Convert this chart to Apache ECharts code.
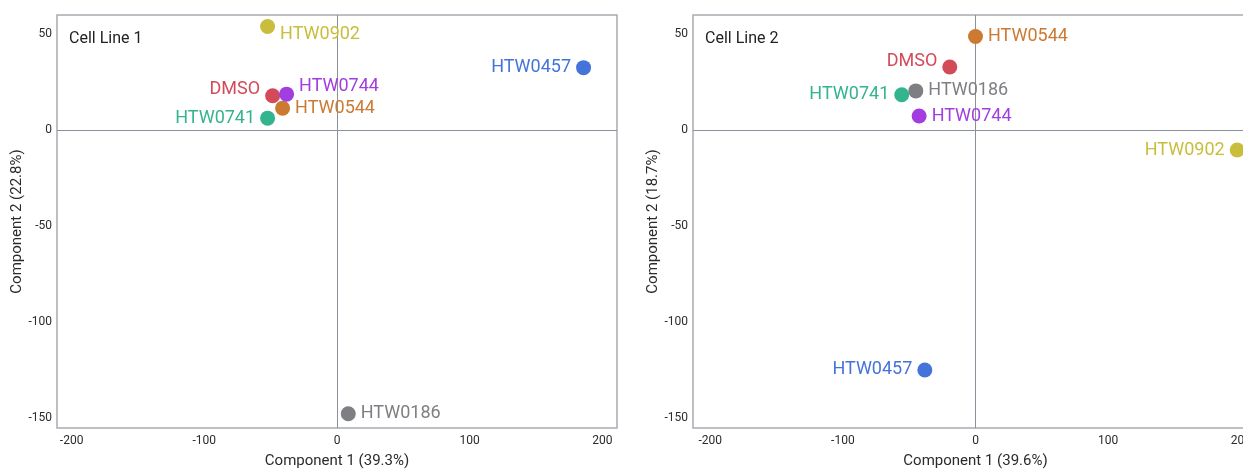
<!DOCTYPE html>
<html>
<head>
<meta charset="utf-8">
<title>PCA of treatments by cell line</title>
<script src="https://cdn.jsdelivr.net/npm/echarts@6/dist/echarts.min.js"></script>
<style>
  html, body { margin: 0; padding: 0; background: #ffffff; overflow: hidden; }
  /* the second panel runs past the right edge of the frame and is cut off */
  #frame { width: 1243px; height: 474px; overflow: hidden; position: relative; }
  #chart { width: 1270px; height: 474px; position: absolute; left: 0; top: 0; }
</style>
</head>
<body>
<div id="frame"><div id="chart"></div></div>
<script>
// Treatments, in drawing order
const treatments = ['DMSO', 'HTW0186', 'HTW0457', 'HTW0544', 'HTW0741', 'HTW0744', 'HTW0902'];

// Cell Line 1 scores
const line1PC1 = [-48.5, 8.5, 185.8, -41.0, -52.3, -38.0, -52.3];
const line1PC2 = [18.0, -147.6, 32.6, 11.5, 6.3, 18.8, 54.0];

// Cell Line 2 scores
const line2PC1 = [-19.4, -45.0, -38.2, 0.0, -55.6, -42.5, 197.3];
const line2PC2 = [32.9, 20.5, -124.8, 48.8, 18.5, 7.4, -10.3];

// Panel text
const panelTitles = ['Cell Line 1', 'Cell Line 2'];
const xAxisTitles = ['Component 1 (39.3%)', 'Component 1 (39.6%)'];
const yAxisTitles = ['Component 2 (22.8%)', 'Component 2 (18.7%)'];

// Tick labels
const xTicks = [-200, -100, 0, 100, 200];
const yTicks = [-150, -100, -50, 0, 50];

// Colour for each treatment
const treatmentColors = {
  DMSO: '#d34a59',
  HTW0186: '#7f7f83',
  HTW0457: '#4473d9',
  HTW0544: '#cc7a32',
  HTW0741: '#34b48e',
  HTW0744: '#a23de0',
  HTW0902: '#c8be3c'
};

// Label placement per panel: side of the dot and vertical nudge
const labelPlacement = [
  {
    DMSO: ['left', -6], HTW0186: ['right', 0], HTW0457: ['left', 0], HTW0544: ['right', 0],
    HTW0741: ['left', 0], HTW0744: ['right', -8], HTW0902: ['right', 8]
  },
  {
    DMSO: ['left', -6], HTW0186: ['right', 0], HTW0457: ['left', 0], HTW0544: ['right', 0],
    HTW0741: ['left', 0], HTW0744: ['right', 0], HTW0902: ['left', 0]
  }
];

const FONT = 'Roboto, "Noto Sans", sans-serif';

const panels = [
  { pc1: line1PC1, pc2: line1PC2, left: 57, width: 560, xMin: -211, xMax: 211 },
  { pc1: line2PC1, pc2: line2PC2, left: 693, width: 565, xMin: -213, xMax: 213 }
];
const GRID_TOP = 15;
const GRID_HEIGHT = 418;
const Y_MIN = -155;
const Y_MAX = 60;

const chart = echarts.init(document.getElementById('chart'), null, { renderer: 'canvas' });

const option = {
  animation: false,
  backgroundColor: '#ffffff',
  title: panels.map((p, i) => ({
    text: panelTitles[i],
    left: p.left + 12,
    top: 31,
    padding: 0,
    textStyle: { fontFamily: FONT, fontSize: 16, fontWeight: 'normal', color: '#222222' }
  })),
  grid: panels.map(p => ({
    left: p.left,
    top: GRID_TOP,
    width: p.width,
    height: GRID_HEIGHT,
    show: true,
    borderColor: '#a7acb3',
    borderWidth: 1.5,
    backgroundColor: 'transparent'
  })),
  xAxis: panels.map((p, i) => ({
    type: 'value',
    gridIndex: i,
    min: p.xMin,
    max: p.xMax,
    name: xAxisTitles[i],
    nameLocation: 'middle',
    nameGap: 26,
    nameTextStyle: { fontFamily: FONT, fontSize: 15, color: '#2b2b2b' },
    axisLine: { show: false },
    axisTick: { show: false },
    splitLine: { show: false },
    axisLabel: {
      customValues: xTicks,
      margin: 7,
      fontFamily: FONT,
      fontSize: 12,
      color: '#2b2b2b'
    }
  })),
  yAxis: panels.map((p, i) => ({
    type: 'value',
    gridIndex: i,
    min: Y_MIN,
    max: Y_MAX,
    name: yAxisTitles[i],
    nameLocation: 'middle',
    nameRotate: 90,
    nameGap: 32,
    nameTextStyle: { fontFamily: FONT, fontSize: 15, color: '#2b2b2b' },
    axisLine: { show: false },
    axisTick: { show: false },
    splitLine: { show: false },
    axisLabel: {
      customValues: yTicks,
      margin: 5,
      fontFamily: FONT,
      fontSize: 12,
      color: '#2b2b2b'
    }
  })),
  series: panels.map((p, i) => ({
    type: 'scatter',
    xAxisIndex: i,
    yAxisIndex: i,
    symbol: 'circle',
    symbolSize: 15,
    clip: false,
    data: treatments.map((name, k) => {
      const place = labelPlacement[i][name];
      return {
        name: name,
        value: [p.pc1[k], p.pc2[k]],
        itemStyle: { color: treatmentColors[name], opacity: 1 },
        label: {
          show: true,
          position: place[0],
          distance: 5,
          offset: [0, place[1]],
          formatter: '{b}',
          fontFamily: FONT,
          fontSize: 18,
          color: treatmentColors[name]
        }
      };
    }),
    markLine: {
      silent: true,
      symbol: 'none',
      label: { show: false },
      lineStyle: { color: '#8b919a', width: 1, type: 'solid' },
      data: [{ xAxis: 0 }, { yAxis: 0 }],
      z: 1
    }
  }))
};

chart.setOption(option);
</script>
</body>
</html>
